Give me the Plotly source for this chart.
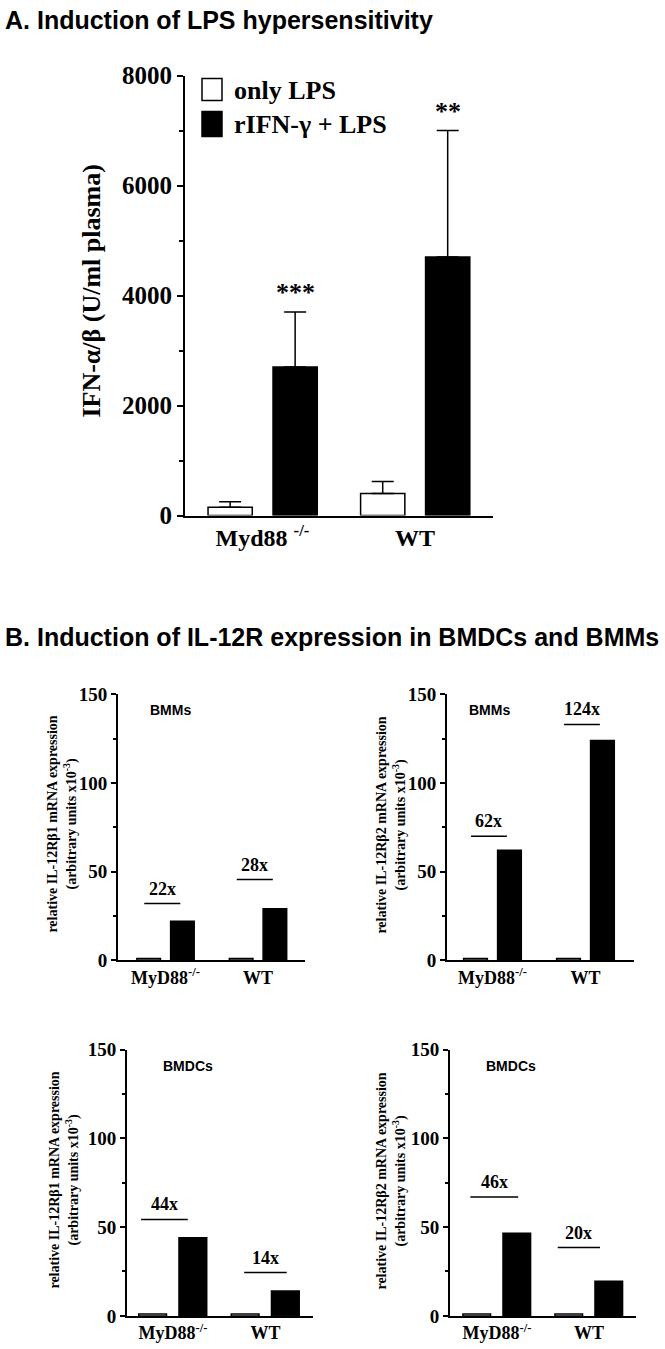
import plotly.graph_objects as go

W, H = 665, 1349

# ---- panel A data (IFN-a/b in plasma) ----
groups_a = ["Myd88 <sup>-/-</sup>", "WT"]
only_lps = [150, 400]
only_lps_err = [100, 220]
ifn_lps = [2700, 4700]
ifn_lps_err = [1000, 2300]
stars_a = ["***", "**"]

# ---- panel B data (relative mRNA, arbitrary units x10^-3) ----
groups_b = ["MyD88<sup>-/-</sup>", "WT"]
bmm_b1_ctrl = [1, 1]
bmm_b1_stim = [22, 29]
bmm_b2_ctrl = [1, 1]
bmm_b2_stim = [62, 124]
bmdc_b1_ctrl = [1, 1]
bmdc_b1_stim = [44, 14]
bmdc_b2_ctrl = [1, 1]
bmdc_b2_stim = [46.5, 19.5]

fold_bmm_b1 = ["22x", "28x"]
fold_bmm_b1_y = [32, 45.5]
fold_bmm_b2 = ["62x", "124x"]
fold_bmm_b2_y = [70, 133]
fold_bmdc_b1 = ["44x", "14x"]
fold_bmdc_b1_y = [54.3, 24.4]
fold_bmdc_b2 = ["46x", "20x"]
fold_bmdc_b2_y = [67, 38.5]

SERIF = "Liberation Serif"
SANS = "Liberation Sans"


def px(x):
    return x / W


def py(y):
    # screenshot comes out slightly squashed/shifted vertically, compensate
    y = (y - 14.4) / 0.98
    return 1 - y / H


fig = go.Figure()
annotations = []
shapes = []

# ---------------- panel A ----------------
fig.add_trace(go.Bar(x=groups_a, y=only_lps, name="only LPS",
                     marker=dict(color="white", line=dict(color="black", width=1.5)),
                     width=0.29, offset=-0.357,
                     error_y=dict(type="data", symmetric=False, array=only_lps_err,
                                  arrayminus=[0, 0], color="black", thickness=1.5, width=11),
                     xaxis="x", yaxis="y", showlegend=False))
fig.add_trace(go.Bar(x=groups_a, y=ifn_lps, name="rIFN-γ + LPS",
                     marker=dict(color="black", line=dict(color="black", width=1.5)),
                     width=0.29, offset=0.069,
                     error_y=dict(type="data", symmetric=False, array=ifn_lps_err,
                                  arrayminus=[0, 0], color="black", thickness=1.5, width=11),
                     xaxis="x", yaxis="y", showlegend=False))

for i, s in enumerate(stars_a):
    annotations.append(dict(x=i + 0.069 + 0.145, y=ifn_lps[i] + ifn_lps_err[i], xref="x", yref="y",
                            text="<b>%s</b>" % s, showarrow=False, yanchor="bottom", yshift=3,
                            font=dict(family=SERIF, size=26, color="black")))

# legend drawn by hand (big boxes like the original)
shapes.append(dict(type="rect", xref="paper", yref="paper", x0=px(202), x1=px(222),
                   y0=py(102), y1=py(80), line=dict(color="black", width=1.5), fillcolor="white"))
shapes.append(dict(type="rect", xref="paper", yref="paper", x0=px(202), x1=px(222),
                   y0=py(138), y1=py(113), line=dict(color="black", width=1.5), fillcolor="black"))
annotations.append(dict(x=px(232), y=py(92), xref="paper", yref="paper", text="<b>only LPS</b>",
                        showarrow=False, xanchor="left", yanchor="middle",
                        font=dict(family=SERIF, size=26, color="black")))
annotations.append(dict(x=px(232), y=py(126), xref="paper", yref="paper", text="<b>rIFN-γ + LPS</b>",
                        showarrow=False, xanchor="left", yanchor="middle",
                        font=dict(family=SERIF, size=26, color="black")))

annotations.append(dict(x=px(92), y=py(292), xref="paper", yref="paper",
                        text="<b>IFN-α/β (U/ml plasma)</b>", textangle=-90, showarrow=False,
                        xanchor="center", yanchor="middle",
                        font=dict(family=SERIF, size=26, color="black")))

# titles
annotations.append(dict(x=px(3), y=py(21), xref="paper", yref="paper",
                        text="<b>A. Induction of LPS hypersensitivity</b>", showarrow=False,
                        xanchor="left", yanchor="middle", font=dict(family=SANS, size=25, color="black")))
annotations.append(dict(x=px(3), y=py(638), xref="paper", yref="paper",
                        text="<b>B. Induction of IL-12R expression in BMDCs and BMMs</b>", showarrow=False,
                        xanchor="left", yanchor="middle", font=dict(family=SANS, size=25, color="black")))

axis_line = dict(showline=True, linecolor="black", linewidth=2, showgrid=False, zeroline=False)

layout_axes = {
    "xaxis": dict(domain=[px(185), px(493)], range=[-0.508, 1.511], anchor="y", ticks="",
                  tickfont=dict(family=SERIF, size=24, color="black", weight="bold"), **axis_line),
    "yaxis": dict(domain=[py(517), py(77)], range=[0, 8000], anchor="x", tickvals=[0, 2000, 4000, 6000, 8000],
                  ticks="outside", ticklen=6, tickwidth=1.5, tickcolor="black",
                  minor=dict(tickvals=[1000, 3000, 5000, 7000], ticks="outside", ticklen=4,
                             tickwidth=1.5, tickcolor="black"),
                  tickfont=dict(family=SERIF, size=25, color="black", weight="bold"), **axis_line),
}

# ---------------- panel B ----------------
panels = [
    dict(n=2, ctrl=bmm_b1_ctrl, stim=bmm_b1_stim, fold=fold_bmm_b1, fold_y=fold_bmm_b1_y,
         xdom=(118, 305), ydom=(961.7, 695.7), xr=[-0.514, 1.508], w=0.255, off=(-0.31, 0.055),
         spans=[(-0.23, 0.16), (-0.23, 0.16)], cell="BMMs", cell_x=0.28, beta="1", ttl_x=62, ttl_y=826),
    dict(n=3, ctrl=bmm_b2_ctrl, stim=bmm_b2_stim, fold=fold_bmm_b2, fold_y=fold_bmm_b2_y,
         xdom=(447, 634), ydom=(961.7, 695.7), xr=[-0.489, 1.522], w=0.255, off=(-0.31, 0.055),
         spans=[(-0.23, 0.155), (-0.23, 0.155)], cell="BMMs", cell_x=0.225, beta="2", ttl_x=391, ttl_y=826),
    dict(n=4, ctrl=bmdc_b1_ctrl, stim=bmdc_b1_stim, fold=fold_bmdc_b1, fold_y=fold_bmdc_b1_y,
         xdom=(127, 313), ydom=(1317.3, 1051), xr=[-0.497, 1.514], w=0.30, off=(-0.37, 0.065),
         spans=[(-0.345, 0.16), (-0.23, 0.23)], cell="BMDCs", cell_x=0.33, beta="1", ttl_x=64, ttl_y=1182),
    dict(n=5, ctrl=bmdc_b2_ctrl, stim=bmdc_b2_stim, fold=fold_bmdc_b2, fold_y=fold_bmdc_b2_y,
         xdom=(450, 636), ydom=(1317.3, 1051), xr=[-0.511, 1.511], w=0.30, off=(-0.37, 0.065),
         spans=[(-0.29, 0.23), (-0.34, 0.12)], cell="BMDCs", cell_x=0.33, beta="2", ttl_x=391, ttl_y=1182),
]

for p in panels:
    xa, ya = "x%d" % p["n"], "y%d" % p["n"]
    fig.add_trace(go.Bar(x=groups_b, y=p["ctrl"], width=p["w"], offset=p["off"][0],
                         marker=dict(color="white", line=dict(color="black", width=1.5)),
                         xaxis=xa, yaxis=ya, showlegend=False))
    fig.add_trace(go.Bar(x=groups_b, y=p["stim"], width=p["w"], offset=p["off"][1],
                         marker=dict(color="black", line=dict(color="black", width=1.5)),
                         xaxis=xa, yaxis=ya, showlegend=False))
    for i, (lab, hy) in enumerate(zip(p["fold"], p["fold_y"])):
        a, b = p["spans"][i]
        shapes.append(dict(type="line", xref=xa, yref=ya, x0=i + a, x1=i + b, y0=hy, y1=hy,
                           line=dict(color="black", width=1.5)))
        annotations.append(dict(x=i + (a + b) / 2, y=hy, xref=xa, yref=ya, text="<b>%s</b>" % lab,
                                showarrow=False, yanchor="bottom", yshift=3,
                                font=dict(family=SERIF, size=18, color="black")))
    annotations.append(dict(x=p["cell_x"], y=0.94, xref=xa + " domain", yref=ya + " domain",
                            text="<b>%s</b>" % p["cell"], showarrow=False,
                            xanchor="center", yanchor="middle",
                            font=dict(family=SANS, size=14, color="black")))
    annotations.append(dict(x=px(p["ttl_x"]), y=py(p["ttl_y"]), xref="paper", yref="paper",
                            text="<b>relative IL-12Rβ%s mRNA expression<br>(arbitrary units x10<sup>-3</sup>)</b>" % p["beta"],
                            textangle=-90, showarrow=False, xanchor="center", yanchor="middle",
                            font=dict(family=SERIF, size=14, color="black")))
    layout_axes["xaxis%d" % p["n"]] = dict(domain=[px(p["xdom"][0]), px(p["xdom"][1])], range=p["xr"],
                                           anchor=ya, ticks="",
                                           tickfont=dict(family=SERIF, size=18, color="black", weight="bold"),
                                           **axis_line)
    layout_axes["yaxis%d" % p["n"]] = dict(domain=[py(p["ydom"][0]), py(p["ydom"][1])], range=[0, 150],
                                           anchor=xa, tickvals=[0, 50, 100, 150],
                                           ticks="outside", ticklen=5, tickwidth=1.5, tickcolor="black",
                                           minor=dict(tickvals=[25, 75, 125], ticks="outside", ticklen=3,
                                                      tickwidth=1.5, tickcolor="black"),
                                           tickfont=dict(family=SERIF, size=19, color="black", weight="bold"),
                                           **axis_line)

fig.update_layout(width=W, height=H, margin=dict(l=0, r=0, t=0, b=0),
                  paper_bgcolor="white", plot_bgcolor="white",
                  annotations=annotations, shapes=shapes, **layout_axes)

# page body has a default 8px margin; drop it so the figure fills the window exactly
fig.write_html("out.html", config={"displayModeBar": False},
               post_script="document.body.style.margin='0px';")
